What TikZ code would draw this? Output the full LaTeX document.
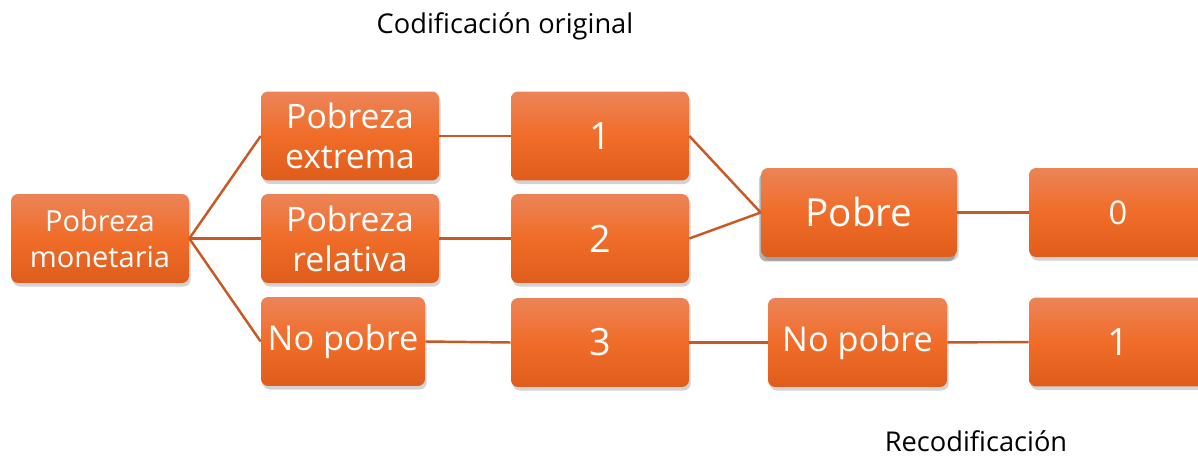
\documentclass[tikz,border=0pt]{standalone}
\usepackage{fontspec}
\setmainfont{Open Sans}
\usetikzlibrary{shadows}
\definecolor{boxtop}{RGB}{236,132,88}
\definecolor{boxmid}{RGB}{240,108,40}
\definecolor{boxbot}{RGB}{224,92,28}
\definecolor{linkcol}{RGB}{200,88,36}
\begin{document}
\begin{tikzpicture}[x=0.02cm,y=-0.02cm,
	box/.style={rectangle,rounded corners=4pt,top color=boxtop,bottom color=boxbot,middle color=boxmid,text=white,align=center,minimum width=3.56cm,minimum height=1.78cm,inner sep=0pt,drop shadow={opacity=0.35,shadow xshift=1pt,shadow yshift=-2pt}},
	link/.style={draw=linkcol,line width=1.4pt},
	title/.style={anchor=base,font=\fontsize{15.5}{18}\selectfont}]
	\useasboundingbox (0,0) rectangle (1198,456);
	\clip (0,0) rectangle (1198,456);
	\node[title] (orig) at (505,34) {Codificación original};
	\node[title] (recod) at (976,451) {Recodificación};
	\node[box,font=\fontsize{16.5}{20.4}\selectfont] (mon) at (100,238.5) {Pobreza\\monetaria};
	\node[box,font=\fontsize{19.2}{22.9}\selectfont] (ext) at (350,136) {Pobreza\\extrema};
	\node[box,font=\fontsize{19.2}{22.9}\selectfont] (rel) at (350,238.5) {Pobreza\\relativa};
	\node[box,minimum width=3.28cm,font=\fontsize{19.5}{23}\selectfont] (np) at (343,341.5) {No pobre};
	\node[box,font=\fontsize{21.4}{25}\selectfont] (c1) at (600,136) {1};
	\node[box,font=\fontsize{21.4}{25}\selectfont] (c2) at (600,238.5) {2};
	\node[box,font=\fontsize{21.4}{25}\selectfont] (c3) at (600,342.5) {3};
	\node[box,minimum width=3.92cm,font=\fontsize{22}{25}\selectfont,drop shadow={opacity=0.6,shadow xshift=-1pt,shadow yshift=-2.5pt}] (pob) at (859,212.5) {Pobre};
	\node[box,minimum width=3.58cm,font=\fontsize{19.5}{23}\selectfont] (np2) at (857.5,342.5) {No pobre};
	\node[box,font=\fontsize{18.6}{22}\selectfont] (cero) at (1118,212.5) {0};
	\node[box,font=\fontsize{21.4}{25}\selectfont] (uno) at (1118,342) {1};
	\draw[link] (mon.east) -- (ext.west);
	\draw[link] (mon.east) -- (rel.west);
	\draw[link] (mon.east) -- (np.west);
	\draw[link] (ext) -- (c1);
	\draw[link] (rel) -- (c2);
	\draw[link] (np.east) -- (c3.west);
	\draw[link] (c1.east) -- (pob.west);
	\draw[link] (c2.east) -- (pob.west);
	\draw[link] (pob) -- (cero);
	\draw[link] (c3) -- (np2);
	\draw[link] (np2) -- (uno);
\end{tikzpicture}
\end{document}
